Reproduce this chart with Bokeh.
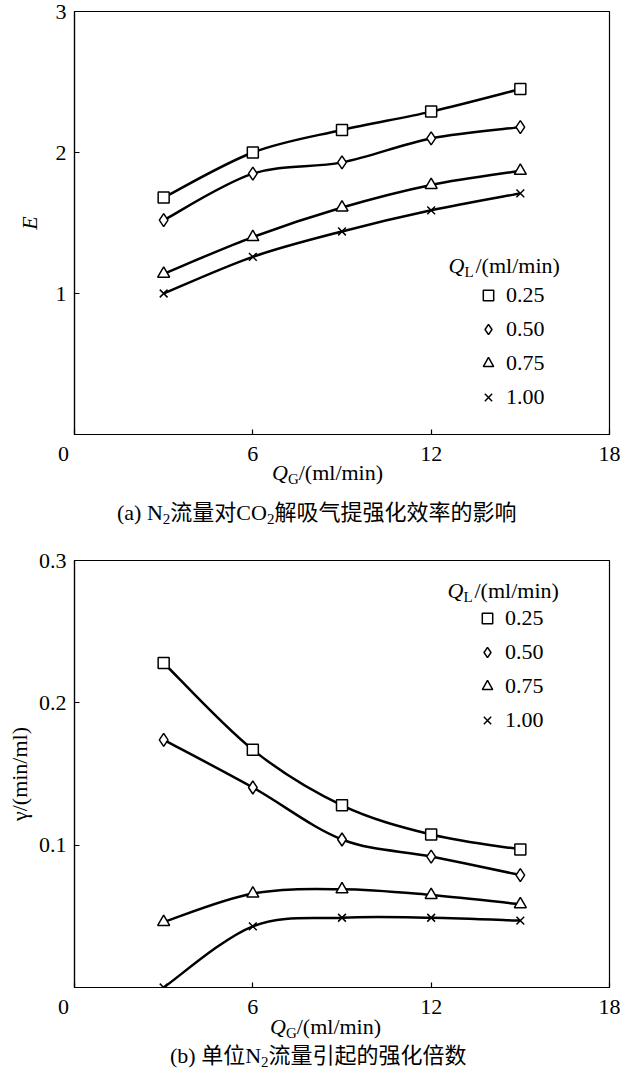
import numpy as np
from bokeh.plotting import figure
from bokeh.layouts import column
from bokeh.models import Range1d, FixedTicker, Label, Legend, LegendItem, Div
from bokeh.core.properties import value
from bokeh.embed import file_html
from bokeh.resources import INLINE

# ---------------- data ----------------
qg = [3, 6, 9, 12, 15]                      # Q_G (ml/min)
ql_labels = ["0.25", "0.50", "0.75", "1.00"]  # Q_L (ml/min)

E_025 = [1.68, 2.00, 2.16, 2.29, 2.45]
E_050 = [1.52, 1.85, 1.93, 2.10, 2.18]
E_075 = [1.14, 1.40, 1.61, 1.77, 1.87]
E_100 = [1.00, 1.26, 1.44, 1.59, 1.71]

g_025 = [0.228, 0.167, 0.128, 0.1075, 0.097]
g_050 = [0.174, 0.1405, 0.104, 0.092, 0.079]
g_075 = [0.046, 0.066, 0.069, 0.065, 0.0585]
g_100 = [0.000, 0.043, 0.049, 0.049, 0.047]

x_ticks = [0, 6, 12, 18]
E_ticks = [1, 2, 3]
g_ticks = [0.1, 0.2, 0.3]

SUBTAG = "<sub style='font-size:15px;vertical-align:-4px'>"
xlabel_html = "<i>Q</i>" + SUBTAG + "G</sub>/(ml/min)"
caption_a_html = ("(a) N" + SUBTAG + "2</sub>流量对CO" + SUBTAG + "2</sub>"
                  "解吸气提强化效率的影响")
caption_b_html = "(b) 单位N" + SUBTAG + "2</sub>流量引起的强化倍数"

SERIF = "Liberation Serif"
MIXED = "'Liberation Serif', 'Noto Sans CJK SC'"
FS = "22px"
SUB = "15px"

markers = ["square", "diamond", "triangle", "x"]
msizes = [11, 13, 12, 11]


def make_fig(w, h, yr, yticks, bl, br, bt, bb, ylabel, ystyle, ystandoff):
    p = figure(width=w, height=h, x_range=Range1d(0, 18), y_range=Range1d(*yr),
               output_backend="svg", toolbar_location=None,
               min_border_left=bl, min_border_right=br,
               min_border_top=bt, min_border_bottom=bb)
    p.grid.visible = False
    p.background_fill_color = "white"
    p.border_fill_color = "white"
    p.outline_line_color = "black"
    p.outline_line_width = 1.2
    for ax in (p.xaxis[0], p.yaxis[0]):
        ax.major_tick_in = 5
        ax.major_tick_out = 0
        ax.minor_tick_line_color = None
        ax.axis_line_color = "black"
        ax.axis_line_width = 1.2
        ax.major_tick_line_color = "black"
        ax.major_tick_line_width = 1.2
        ax.major_label_text_font = SERIF
        ax.major_label_text_font_size = FS
        ax.major_label_text_color = "black"
    p.xaxis.ticker = FixedTicker(ticks=x_ticks)
    p.xaxis.major_label_overrides = {0: "0\u2002\u2002"}
    p.yaxis.ticker = FixedTicker(ticks=yticks)
    p.xaxis.major_label_standoff = 6
    p.yaxis.major_label_standoff = 8
    p.yaxis.axis_label = ylabel
    p.yaxis.axis_label_text_font = SERIF
    p.yaxis.axis_label_text_font_size = FS
    p.yaxis.axis_label_text_font_style = ystyle
    p.yaxis.axis_label_text_color = "black"
    p.yaxis.axis_label_standoff = ystandoff
    return p


def smooth(p, xs, ys):
    x = np.asarray(xs, float)
    y = np.asarray(ys, float)
    n = len(x)
    xp = np.concatenate([[x[0]], x, [x[-1]]])
    yp = np.concatenate([[y[0]], y, [y[-1]]])
    cx0 = x[:-1] + (xp[2:n + 1] - xp[0:n - 1]) / 6.0
    cy0 = y[:-1] + (yp[2:n + 1] - yp[0:n - 1]) / 6.0
    cx1 = x[1:] - (xp[3:n + 2] - xp[1:n]) / 6.0
    cy1 = y[1:] - (yp[3:n + 2] - yp[1:n]) / 6.0
    p.bezier(x0=x[:-1], y0=y[:-1], x1=x[1:], y1=y[1:],
             cx0=cx0, cy0=cy0, cx1=cx1, cy1=cy1,
             line_color="black", line_width=2.5)


def add_series(p, series, loc):
    rs = []
    for ys in series:
        smooth(p, qg, ys)
    for ys, m, s in zip(series, markers, msizes):
        r = p.scatter(qg, ys, marker=m, size=s, fill_color="white",
                      line_color="black", line_width=1.5)
        rs.append(r)
    items = [LegendItem(label=value(lab), renderers=[r]) for lab, r in zip(ql_labels, rs)]
    leg = Legend(items=items, location=loc, orientation="vertical",
                 glyph_width=26, glyph_height=26, label_height=26, spacing=8,
                 padding=0, margin=0, label_standoff=5,
                 border_line_color=None, background_fill_alpha=0,
                 label_text_font=SERIF, label_text_font_size=FS,
                 label_text_color="black")
    p.add_layout(leg)


def slabel(p, x, y, text, size=FS, style="normal", **kw):
    p.add_layout(Label(x=x, y=y, x_units="screen", y_units="screen", text=text,
                       text_font=SERIF, text_font_size=size, text_font_style=style,
                       text_color="black", text_baseline="middle", text_align="left", **kw))


def header(p, x, y):
    slabel(p, x, y, "Q", style="italic")
    slabel(p, x + 16, y - 6, "L", size=SUB)
    slabel(p, x + 27, y, "/(ml/min)")


def text_div(html, pad_left, height, top_margin=0):
    style = {"font-family": MIXED, "font-size": FS, "color": "black",
             "line-height": f"{height}px", "padding-left": f"{pad_left}px",
             "white-space": "nowrap"}
    return Div(text=html, width=620, height=height, margin=(top_margin, 0, 0, 0),
               styles=style)


# ---------------- panel (a) ----------------
p1 = make_fig(620, 468, (0, 3), E_ticks, 72, 11, 11, 34, "E", "italic", 11)
add_series(p1, [E_025, E_050, E_075, E_100], (401, 24))
header(p1, 374, 169)
d_xa = text_div(xlabel_html, 272, 24, -7)
d_ca = text_div(caption_a_html, 117, 55)

# ---------------- panel (b) ----------------
p2 = make_fig(620, 481, (0, 0.3), g_ticks, 74, 11, 20, 34, "\u03b3/(min/ml)", "normal", 4)
add_series(p2, [g_025, g_050, g_075, g_100], (400, 254))
header(p2, 373, 397)
d_xb = text_div(xlabel_html, 270, 26, -7)
d_cb = text_div(caption_b_html, 170, 24, 4)

layout = column(p1, d_xa, d_ca, p2, d_xb, d_cb, spacing=0)
open("out.html", "w").write(file_html(layout, INLINE))
